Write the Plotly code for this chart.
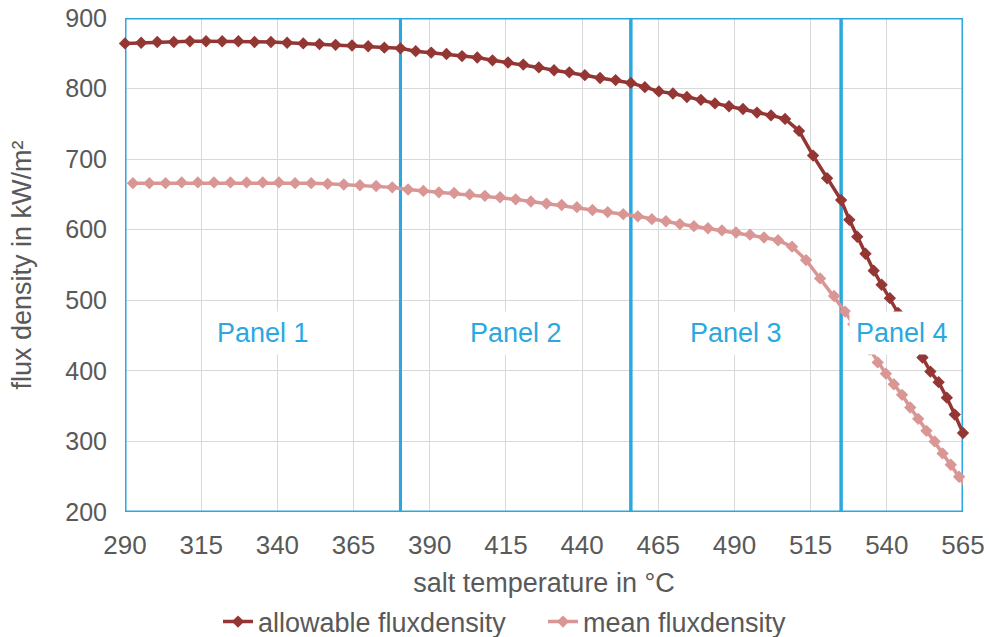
import plotly.graph_objects as go

# ---- data ----
allow_temp = [290.0, 295.3, 300.6, 306.0, 311.3, 316.6, 321.9, 327.2, 332.5, 337.9, 343.2, 348.5,
              353.8, 359.1, 364.5, 369.8, 375.1, 380.4,
              385.4, 390.5, 395.5, 400.6, 405.6, 410.6, 415.7, 420.7, 425.8, 430.8, 435.8, 440.9,
              445.9, 451.0, 456.0,
              460.6, 465.2, 469.8, 474.4, 479.0, 483.6, 488.2, 492.8, 497.4, 502.0, 506.6, 511.2,
              515.8, 520.4, 525.0,
              527.7, 530.3, 533.0, 535.7, 538.3, 541.0, 543.7, 546.3, 549.0, 551.7, 554.3, 557.0,
              559.7, 562.3, 565.0]
allow_flux = [864, 865, 866, 866, 867, 867, 867, 867, 866, 866, 865, 864,
              863, 862, 861, 860, 858, 857,
              853, 851, 849, 846, 844, 840, 837, 834, 830, 826, 823, 819,
              815, 812, 808,
              802, 796, 793, 788, 784, 779, 775, 771, 766, 762, 757, 740,
              705, 673, 642,
              614, 590, 566, 542, 522, 503, 482, 461, 440, 419, 399, 384,
              362, 338, 312]

mean_temp = [292.6, 298.0, 303.3, 308.6, 313.9, 319.2, 324.6, 329.9, 335.2, 340.5, 345.8, 351.1,
             356.5, 361.8, 367.1, 372.4, 377.7,
             382.9, 387.9, 393.0, 398.0, 403.1, 408.1, 413.1, 418.2, 423.2, 428.3, 433.3, 438.3,
             443.4, 448.4, 453.5,
             458.3, 462.9, 467.5, 472.1, 476.7, 481.3, 485.9, 490.5, 495.1, 499.7, 504.3, 508.9,
             513.5, 518.1, 522.7,
             526.3, 529.0, 531.7, 534.3, 537.0, 539.7, 542.3, 545.0, 547.7, 550.3, 553.0, 555.7,
             558.3, 561.0, 563.7, 566.3]
mean_flux = [666, 666, 666, 667, 667, 667, 667, 667, 667, 667, 666, 666,
             665, 664, 663, 662, 660,
             657, 655, 653, 652, 650, 648, 646, 643, 640, 637, 635, 632,
             628, 625, 622,
             619, 615, 612, 608, 605, 602, 599, 596, 593, 589, 585, 576,
             557, 531, 506,
             484, 466, 448, 430, 412, 396, 381, 366, 348, 332, 315, 300,
             283, 267, 250, 234]

panel_names = ["Panel 1", "Panel 2", "Panel 3", "Panel 4"]
panel_bounds = [290, 380.4, 456, 525, 565]
x_ticks = [290, 315, 340, 365, 390, 415, 440, 465, 490, 515, 540, 565]
y_ticks = [200, 300, 400, 500, 600, 700, 800, 900]

DARK = "#943634"
PINK = "#d99694"
BLUE = "#2aa8df"
GREY = "#595959"
FONT = "Liberation Sans, Arial, sans-serif"

fig = go.Figure()
fig.add_trace(go.Scatter(x=allow_temp, y=allow_flux, mode="lines+markers",
                         name="allowable fluxdensity",
                         line=dict(color=DARK, width=3.5),
                         marker=dict(symbol="diamond", size=9.5, color=DARK),
                         cliponaxis=False))
fig.add_trace(go.Scatter(x=mean_temp, y=mean_flux, mode="lines+markers",
                         name="mean fluxdensity",
                         line=dict(color=PINK, width=3.5),
                         marker=dict(symbol="diamond", size=9.5, color=PINK),
                         cliponaxis=False))

for i, name in enumerate(panel_names):
    x0, x1 = panel_bounds[i], panel_bounds[i + 1]
    fig.add_shape(type="rect", x0=x0, x1=x1, y0=200, y1=900, xref="x", yref="y",
                  line=dict(color=BLUE, width=3), layer="between")
    fig.add_annotation(x=(x0 + x1) / 2, y=454, xref="x", yref="y", text=name,
                       showarrow=False, font=dict(family=FONT, size=27, color=BLUE),
                       bgcolor="white", borderpad=6)

fig.update_layout(
    width=989, height=637,
    margin=dict(l=125, r=26, t=18, b=125, autoexpand=False),
    paper_bgcolor="white", plot_bgcolor="white",
    font=dict(family=FONT, color=GREY),
    showlegend=True,
    legend=dict(orientation="h", x=0.111, xanchor="left", y=-0.2227, yanchor="middle",
                font=dict(family=FONT, size=27, color=GREY), entrywidth=280,
                traceorder="normal"),
)
fig.update_xaxes(range=[290, 565], tickvals=x_ticks, showgrid=True, gridcolor="#d9d9d9",
                 gridwidth=1, zeroline=False, showline=False, ticks="", automargin=False,
                 ticklabeloverflow="allow",
                 tickfont=dict(family=FONT, size=26, color=GREY), ticklabelstandoff=15,
                 title=dict(text="salt temperature in °C", font=dict(family=FONT, size=27, color=GREY),
                            standoff=14))
fig.update_yaxes(range=[200, 900], tickvals=y_ticks, showgrid=True, gridcolor="#d9d9d9",
                 gridwidth=1, zeroline=False, showline=False, ticks="", automargin=False,
                 ticklabeloverflow="allow",
                 tickfont=dict(family=FONT, size=25, color=GREY), ticklabelstandoff=17,
                 title=dict(text="flux density in kW/m²", font=dict(family=FONT, size=27, color=GREY),
                            standoff=25))

fig.write_html("out.html", config={"displayModeBar": False},
               post_script="document.body.style.margin='0px';")
